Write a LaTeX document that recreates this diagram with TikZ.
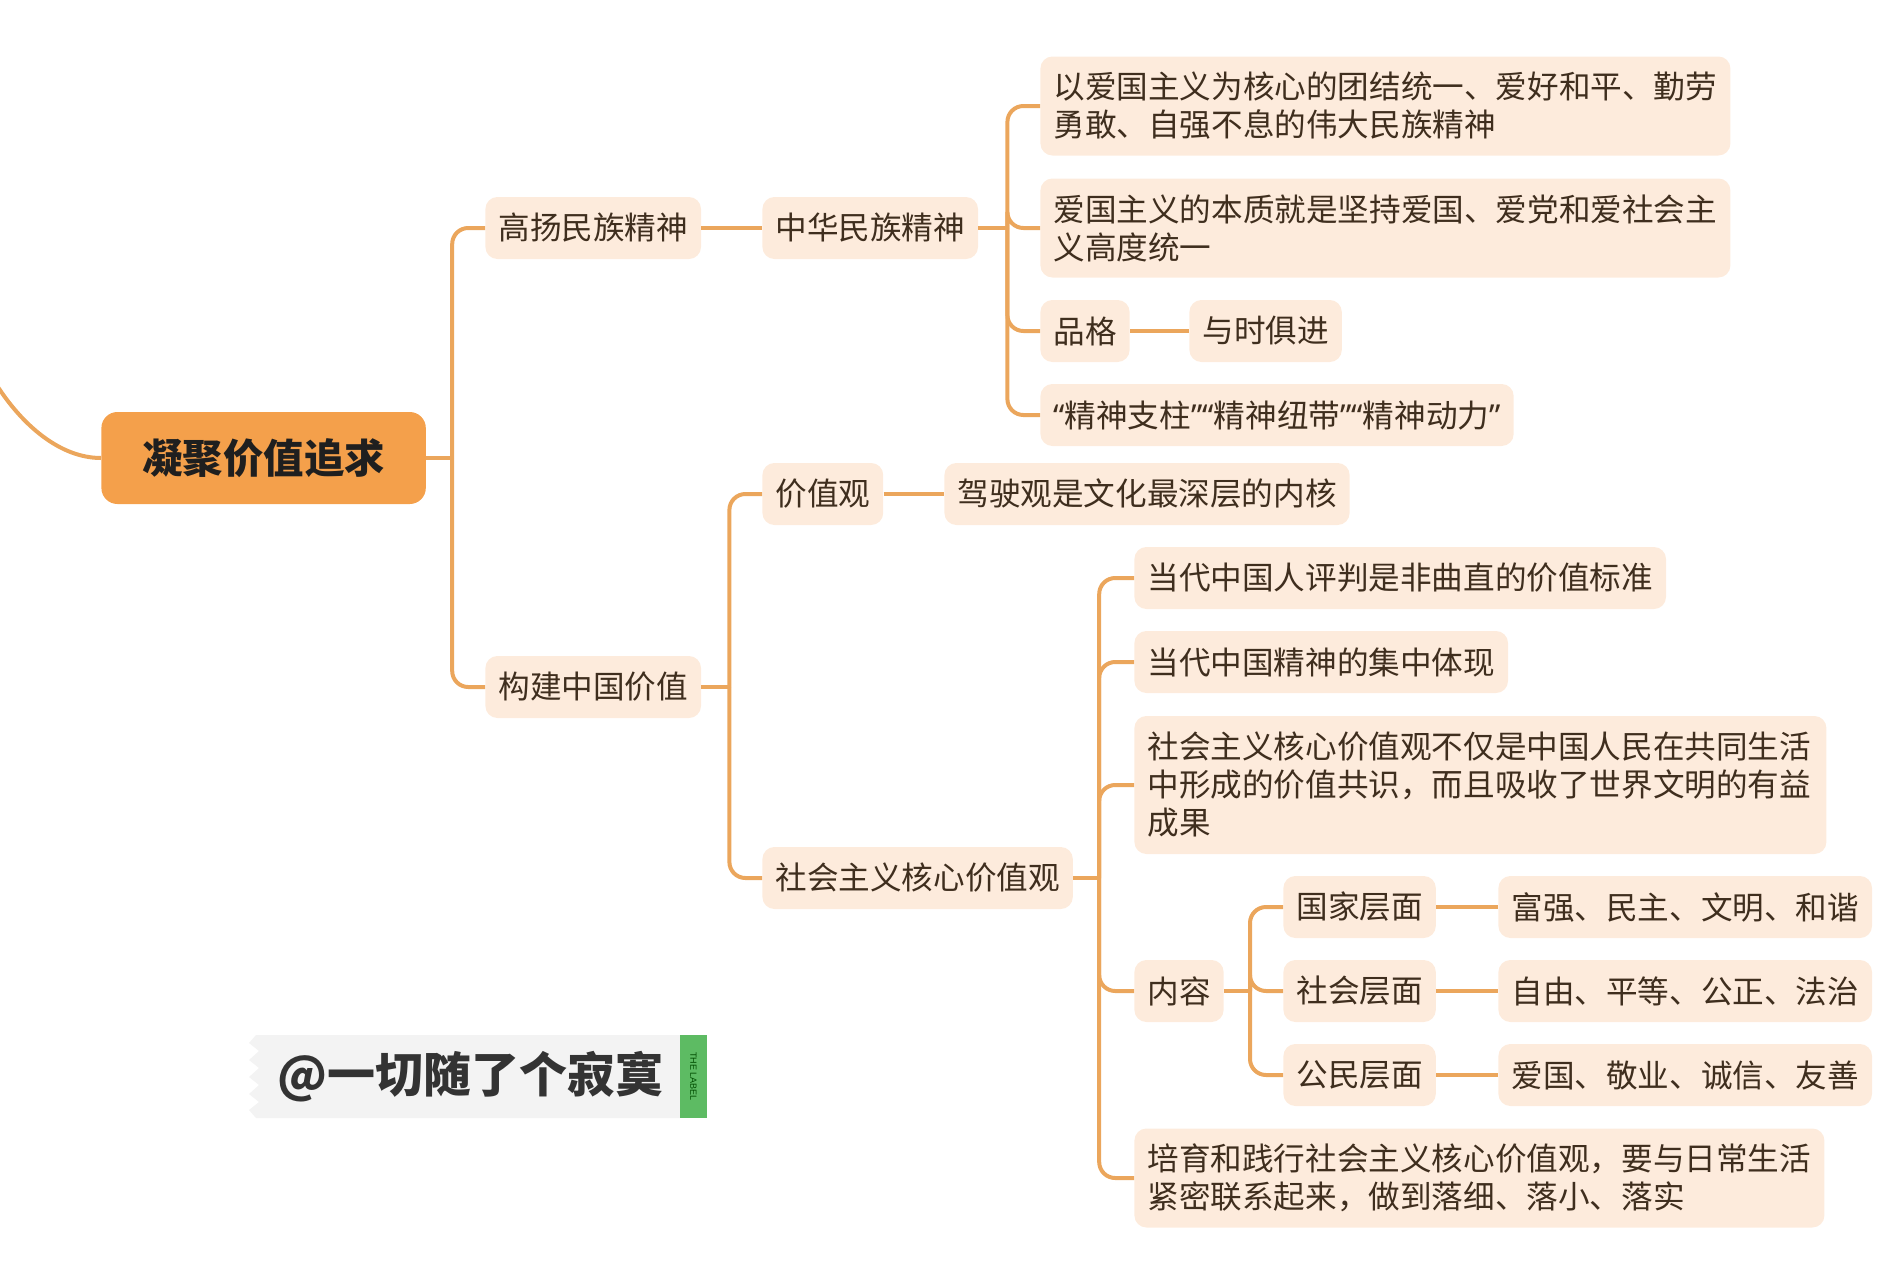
\documentclass[tikz,border=0pt]{standalone}
\usepackage{fontspec}
\setmainfont{Noto Sans CJK SC}
\newfontfamily\qf{Noto Sans}
\newfontfamily\labfont{Liberation Sans}
\definecolor{linec}{HTML}{EBA65C}
\definecolor{nodef}{HTML}{FDEBDC}
\definecolor{textc}{HTML}{3F2E1E}
\definecolor{rootf}{HTML}{F4A04B}
\definecolor{wmgrey}{HTML}{F3F3F3}
\definecolor{wmgreen}{HTML}{5DBB63}
\newcommand{\myoq}{{\qf “}}
\newcommand{\mycq}{{\qf ”}}
\tikzset{
  conn/.style={draw=linec, line width=2pt, rounded corners=8pt},
  stub/.style={draw=linec, line width=2pt},
  tnode/.style={fill=nodef, rounded corners=6pt, text=textc, inner xsep=6.5pt, inner ysep=0pt,
    minimum height=31pt, anchor=west, font=\fontsize{15.8}{19}\selectfont},
  twoline/.style={tnode, minimum height=49.5pt, text width=332pt, align=left},
  threeline/.style={tnode, minimum height=69pt, text width=333pt, align=left},
  rootn/.style={fill=rootf, rounded corners=8pt, text=black!88, inner xsep=20.5pt, inner ysep=0pt,
    minimum height=46pt, anchor=west, font=\fontsize{20.2}{24}\selectfont\bfseries}
}
\begin{document}
\begin{tikzpicture}[x=0.5pt,y=-0.5pt]
\useasboundingbox (0,0) rectangle (1902,1280);
% nodes
\node[rootn] (root) at (101,458) {凝聚价值追求};
\node[tnode] (l1a) at (485,228) {高扬民族精神};
\node[tnode] (l1b) at (485,687) {构建中国价值};
\node[tnode] (zh) at (762,228) {中华民族精神};
\node[twoline] (a1) at (1040,106) {以爱国主义为核心的团结统一、爱好和平、勤劳\\勇敢、自强不息的伟大民族精神};
\node[twoline] (a2) at (1040,228) {爱国主义的本质就是坚持爱国、爱党和爱社会主\\义高度统一};
\node[tnode] (pg) at (1040,331) {品格};
\node[tnode] (ysjj) at (1189,331) {与时俱进};
\node[tnode] (qt) at (1040,415) {\myoq 精神支柱\mycq\myoq 精神纽带\mycq\myoq 精神动力\mycq};
\node[tnode] (jzg) at (762,494) {价值观};
\node[tnode] (jsg) at (944,494) {驾驶观是文化最深层的内核};
\node[tnode] (hx) at (762,878) {社会主义核心价值观};
\node[tnode] (b1) at (1134,578) {当代中国人评判是非曲直的价值标准};
\node[tnode] (b2) at (1134,662) {当代中国精神的集中体现};
\node[threeline] (b3) at (1134,785) {社会主义核心价值观不仅是中国人民在共同生活\\中形成的价值共识，而且吸收了世界文明的有益\\成果};
\node[tnode] (nr) at (1134,991) {内容};
\node[tnode] (gj) at (1283,907) {国家层面};
\node[tnode] (sh) at (1283,991) {社会层面};
\node[tnode] (gm) at (1283,1075) {公民层面};
\node[tnode] (gjv) at (1498,907) {富强、民主、文明、和谐};
\node[tnode] (shv) at (1498,991) {自由、平等、公正、法治};
\node[tnode] (gmv) at (1498,1075) {爱国、敬业、诚信、友善};
\node[twoline] (b5) at (1134,1178) {培育和践行社会主义核心价值观，要与日常生活\\紧密联系起来，做到落细、落小、落实};
% connectors
\coordinate (inA) at (-4,384);
\draw[stub] (root.west) .. controls (60,458) and (22,425) .. (inA);
% root bracket
\coordinate (brR) at ([xshift=13pt]root.east);
\draw[stub] (root.east) -- (brR);
\draw[conn] (brR) |- (l1a.west);
\draw[conn] (brR) |- (l1b.west);
\draw[stub] (l1a.east) -- (zh.west);
% zh bracket
\coordinate (brZ) at ([xshift=14.5pt]zh.east);
\draw[stub] (zh.east) -- (brZ);
\foreach \c in {a1,a2,pg,qt} \draw[conn] (brZ) |- (\c.west);
\draw[stub] (pg.east) -- (ysjj.west);
% l1b bracket
\coordinate (brB) at ([xshift=14pt]l1b.east);
\draw[stub] (l1b.east) -- (brB);
\draw[conn] (brB) |- (jzg.west);
\draw[conn] (brB) |- (hx.west);
\draw[stub] (jzg.east) -- (jsg.west);
% hx bracket
\coordinate (brH) at ([xshift=13pt]hx.east);
\draw[stub] (hx.east) -- (brH);
\foreach \c in {b1,b2,b3,nr,b5} \draw[conn] (brH) |- (\c.west);
% nr bracket
\coordinate (brN) at ([xshift=13pt]nr.east);
\draw[stub] (nr.east) -- (brN);
\foreach \c in {gj,sh,gm} \draw[conn] (brN) |- (\c.west);
\draw[stub] (gj.east) -- (gjv.west);
\draw[stub] (sh.east) -- (shv.west);
\draw[stub] (gm.east) -- (gmv.west);
% watermark
\fill[wmgrey] (680,1035) -- (256,1035) -- (249,1043) -- (259,1051) -- (249,1060) -- (259,1068)
  -- (249,1077) -- (259,1085) -- (249,1094) -- (259,1102) -- (249,1110) -- (256,1118)
  -- (680,1118) -- cycle;
\fill[wmgreen] (680,1035) rectangle (707,1118);
\node[rotate=-90, text=green!30!black, font=\labfont\fontsize{4.5}{5}\selectfont, inner sep=0pt] (lab) at (693.5,1076.5) {THE LABEL};
\node[anchor=west, text=black!80, font=\fontsize{24}{28}\selectfont\bfseries, inner sep=0pt] (wm) at (277,1077) {@一切随了个寂寞};
\end{tikzpicture}
\end{document}
